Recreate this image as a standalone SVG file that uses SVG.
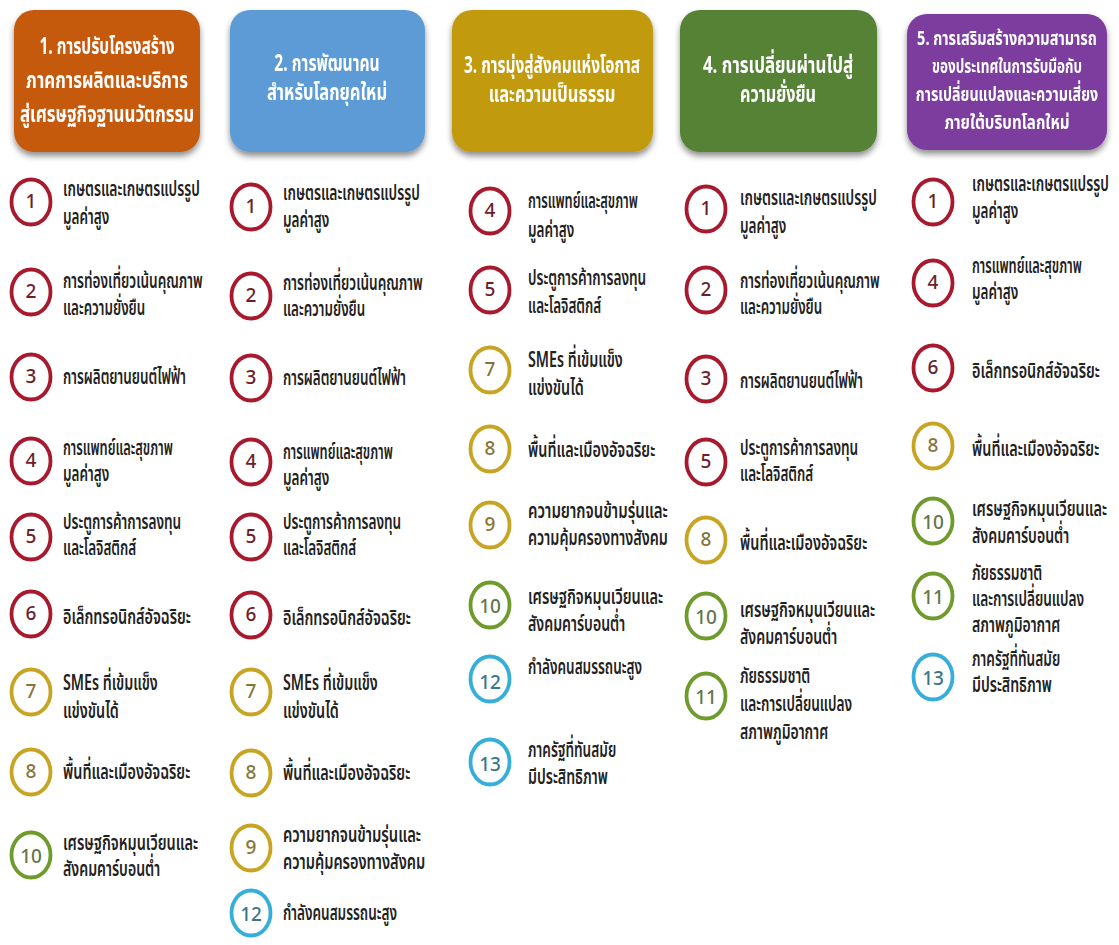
<svg xmlns="http://www.w3.org/2000/svg" width="1119" height="945" viewBox="0 0 1119 945">
<defs>
<filter id="sh" x="-10%" y="-10%" width="120%" height="130%">
<feGaussianBlur in="SourceAlpha" stdDeviation="3"/>
<feOffset dx="0" dy="4" result="b"/>
<feComponentTransfer><feFuncA type="linear" slope="0.45"/></feComponentTransfer>
<feMerge><feMergeNode/><feMergeNode in="SourceGraphic"/></feMerge>
</filter>
</defs>
<style>
text{font-family:"Noto Sans Thai","Noto Sans","DejaVu Sans",sans-serif;dominant-baseline:central}
.h{fill:#fff;font-size:23px;font-weight:700;text-anchor:middle}
.h5{fill:#fff;font-size:20px;font-weight:700;text-anchor:middle}
.t{fill:#222;font-size:22px;font-weight:600}
.n{font-size:19px;font-weight:500;text-anchor:middle}
.r{fill:#fff;stroke:#A8192E;stroke-width:3.8}
.g{fill:#fff;stroke:#C8A423;stroke-width:3.8}
.v{fill:#fff;stroke:#6E9B2C;stroke-width:3.8}
.c{fill:#fff;stroke:#36AEDA;stroke-width:3.8}
.rn{fill:#6E1E2A}.gn{fill:#857538}.vn{fill:#647548}.cn{fill:#377888}
</style>
<rect width="1119" height="945" fill="#fff"/>

<g id="h1" filter="url(#sh)">
<rect x="14" y="10" width="186" height="142" rx="20" fill="#C55A11"/>
<text class="h" transform="translate(107 47) scale(0.65 1)" textLength="208" lengthAdjust="spacingAndGlyphs">1. การปรับโครงสร้าง</text>
<text class="h" transform="translate(107 81) scale(0.65 1)" textLength="249" lengthAdjust="spacingAndGlyphs">ภาคการผลิตและบริการ</text>
<text class="h" transform="translate(107 115) scale(0.65 1)" textLength="268" lengthAdjust="spacingAndGlyphs">สู่เศรษฐกิจฐานนวัตกรรม</text>
</g>
<g id="h2" filter="url(#sh)">
<rect x="230" y="10" width="195" height="142" rx="20" fill="#5B9BD5"/>
<text class="h" transform="translate(327 64) scale(0.65 1)" textLength="162" lengthAdjust="spacingAndGlyphs">2. การพัฒนาคน</text>
<text class="h" transform="translate(327 93) scale(0.65 1)" textLength="185" lengthAdjust="spacingAndGlyphs">สำหรับโลกยุคใหม่</text>
</g>
<g id="h3" filter="url(#sh)">
<rect x="452" y="10" width="201" height="142" rx="20" fill="#C29A0B"/>
<text class="h" transform="translate(552 66) scale(0.65 1)" textLength="271" lengthAdjust="spacingAndGlyphs">3. การมุ่งสู่สังคมแห่งโอกาส</text>
<text class="h" transform="translate(552 95) scale(0.65 1)" textLength="195" lengthAdjust="spacingAndGlyphs">และความเป็นธรรม</text>
</g>
<g id="h4" filter="url(#sh)">
<rect x="680" y="10" width="197" height="142" rx="20" fill="#548235"/>
<text class="h" transform="translate(778 66) scale(0.65 1)" textLength="231" lengthAdjust="spacingAndGlyphs">4. การเปลี่ยนผ่านไปสู่</text>
<text class="h" transform="translate(778 95) scale(0.65 1)" textLength="117" lengthAdjust="spacingAndGlyphs">ความยั่งยืน</text>
</g>
<g id="h5" filter="url(#sh)">
<rect x="907" y="14" width="200" height="136" rx="20" fill="#7B3C9F"/>
<text class="h5" transform="translate(1007 38) scale(0.62 1)" textLength="290" lengthAdjust="spacingAndGlyphs">5. การเสริมสร้างความสามารถ</text>
<text class="h5" transform="translate(1007 66) scale(0.62 1)" textLength="242" lengthAdjust="spacingAndGlyphs">ของประเทศในการรับมือกับ</text>
<text class="h5" transform="translate(1007 94) scale(0.62 1)" textLength="294" lengthAdjust="spacingAndGlyphs">การเปลี่ยนแปลงและความเสี่ยง</text>
<text class="h5" transform="translate(1007 122) scale(0.62 1)" textLength="202" lengthAdjust="spacingAndGlyphs">ภายใต้บริบทโลกใหม่</text>
</g>

<!-- Column 1 -->
<g id="c1-1"><ellipse class="r" cx="31" cy="202" rx="19.5" ry="22.5"/><text class="n rn" x="31" y="202">1</text>
<text class="t" transform="translate(63 189) scale(0.6 1)" textLength="228" lengthAdjust="spacingAndGlyphs">เกษตรและเกษตรแปรรูป</text><text class="t" transform="translate(63 217) scale(0.6 1)" textLength="77" lengthAdjust="spacingAndGlyphs">มูลค่าสูง</text></g>
<g id="c1-2"><ellipse class="r" cx="31" cy="292" rx="19.5" ry="22.5"/><text class="n rn" x="31" y="292">2</text>
<text class="t" transform="translate(63 281) scale(0.6 1)" textLength="233" lengthAdjust="spacingAndGlyphs">การท่องเที่ยวเน้นคุณภาพ</text><text class="t" transform="translate(63 308) scale(0.6 1)" textLength="137" lengthAdjust="spacingAndGlyphs">และความยั่งยืน</text></g>
<g id="c1-3"><ellipse class="r" cx="31" cy="377" rx="19.5" ry="22.5"/><text class="n rn" x="31" y="377">3</text>
<text class="t" transform="translate(63 377) scale(0.6 1)" textLength="205" lengthAdjust="spacingAndGlyphs">การผลิตยานยนต์ไฟฟ้า</text></g>
<g id="c1-4"><ellipse class="r" cx="31" cy="461" rx="19.5" ry="22.5"/><text class="n rn" x="31" y="461">4</text>
<text class="t" transform="translate(63 448) scale(0.6 1)" textLength="183" lengthAdjust="spacingAndGlyphs">การแพทย์และสุขภาพ</text><text class="t" transform="translate(63 474) scale(0.6 1)" textLength="77" lengthAdjust="spacingAndGlyphs">มูลค่าสูง</text></g>
<g id="c1-5"><ellipse class="r" cx="31" cy="537" rx="19.5" ry="22.5"/><text class="n rn" x="31" y="537">5</text>
<text class="t" transform="translate(63 522) scale(0.6 1)" textLength="197" lengthAdjust="spacingAndGlyphs">ประตูการค้าการลงทุน</text><text class="t" transform="translate(63 548) scale(0.6 1)" textLength="122" lengthAdjust="spacingAndGlyphs">และโลจิสติกส์</text></g>
<g id="c1-6"><ellipse class="r" cx="31" cy="614" rx="19.5" ry="22.5"/><text class="n rn" x="31" y="614">6</text>
<text class="t" transform="translate(63 617) scale(0.6 1)" textLength="213" lengthAdjust="spacingAndGlyphs">อิเล็กทรอนิกส์อัจฉริยะ</text></g>
<g id="c1-7"><ellipse class="g" cx="31" cy="692" rx="19.5" ry="22.5"/><text class="n gn" x="31" y="692">7</text>
<text class="t" transform="translate(63 683) scale(0.6 1)" textLength="158" lengthAdjust="spacingAndGlyphs">SMEs ที่เข้มแข็ง</text><text class="t" transform="translate(63 711) scale(0.6 1)" textLength="93" lengthAdjust="spacingAndGlyphs">แข่งขันได้</text></g>
<g id="c1-8"><ellipse class="g" cx="31" cy="772" rx="19.5" ry="22.5"/><text class="n gn" x="31" y="772">8</text>
<text class="t" transform="translate(63 772) scale(0.6 1)" textLength="212" lengthAdjust="spacingAndGlyphs">พื้นที่และเมืองอัจฉริยะ</text></g>
<g id="c1-10"><ellipse class="v" cx="31" cy="855" rx="19.5" ry="22.5"/><text class="n vn" x="31" y="857">10</text>
<text class="t" transform="translate(63 843) scale(0.6 1)" textLength="225" lengthAdjust="spacingAndGlyphs">เศรษฐกิจหมุนเวียนและ</text><text class="t" transform="translate(63 869) scale(0.6 1)" textLength="162" lengthAdjust="spacingAndGlyphs">สังคมคาร์บอนต่ำ</text></g>

<!-- Column 2 -->
<g id="c2-1"><ellipse class="r" cx="251" cy="207" rx="19.5" ry="22.5"/><text class="n rn" x="251" y="207">1</text>
<text class="t" transform="translate(283 193) scale(0.6 1)" textLength="228" lengthAdjust="spacingAndGlyphs">เกษตรและเกษตรแปรรูป</text><text class="t" transform="translate(283 220) scale(0.6 1)" textLength="77" lengthAdjust="spacingAndGlyphs">มูลค่าสูง</text></g>
<g id="c2-2"><ellipse class="r" cx="251" cy="296" rx="19.5" ry="22.5"/><text class="n rn" x="251" y="296">2</text>
<text class="t" transform="translate(283 283) scale(0.6 1)" textLength="233" lengthAdjust="spacingAndGlyphs">การท่องเที่ยวเน้นคุณภาพ</text><text class="t" transform="translate(283 309) scale(0.6 1)" textLength="137" lengthAdjust="spacingAndGlyphs">และความยั่งยืน</text></g>
<g id="c2-3"><ellipse class="r" cx="251" cy="378" rx="19.5" ry="22.5"/><text class="n rn" x="251" y="378">3</text>
<text class="t" transform="translate(283 378) scale(0.6 1)" textLength="205" lengthAdjust="spacingAndGlyphs">การผลิตยานยนต์ไฟฟ้า</text></g>
<g id="c2-4"><ellipse class="r" cx="251" cy="462" rx="19.5" ry="22.5"/><text class="n rn" x="251" y="462">4</text>
<text class="t" transform="translate(283 452) scale(0.6 1)" textLength="183" lengthAdjust="spacingAndGlyphs">การแพทย์และสุขภาพ</text><text class="t" transform="translate(283 478) scale(0.6 1)" textLength="77" lengthAdjust="spacingAndGlyphs">มูลค่าสูง</text></g>
<g id="c2-5"><ellipse class="r" cx="251" cy="537" rx="19.5" ry="22.5"/><text class="n rn" x="251" y="537">5</text>
<text class="t" transform="translate(283 522) scale(0.6 1)" textLength="197" lengthAdjust="spacingAndGlyphs">ประตูการค้าการลงทุน</text><text class="t" transform="translate(283 548) scale(0.6 1)" textLength="122" lengthAdjust="spacingAndGlyphs">และโลจิสติกส์</text></g>
<g id="c2-6"><ellipse class="r" cx="251" cy="615" rx="19.5" ry="22.5"/><text class="n rn" x="251" y="615">6</text>
<text class="t" transform="translate(283 618) scale(0.6 1)" textLength="213" lengthAdjust="spacingAndGlyphs">อิเล็กทรอนิกส์อัจฉริยะ</text></g>
<g id="c2-7"><ellipse class="g" cx="251" cy="692" rx="19.5" ry="22.5"/><text class="n gn" x="251" y="692">7</text>
<text class="t" transform="translate(283 683) scale(0.6 1)" textLength="158" lengthAdjust="spacingAndGlyphs">SMEs ที่เข้มแข็ง</text><text class="t" transform="translate(283 711) scale(0.6 1)" textLength="93" lengthAdjust="spacingAndGlyphs">แข่งขันได้</text></g>
<g id="c2-8"><ellipse class="g" cx="251" cy="773" rx="19.5" ry="22.5"/><text class="n gn" x="251" y="773">8</text>
<text class="t" transform="translate(283 773) scale(0.6 1)" textLength="212" lengthAdjust="spacingAndGlyphs">พื้นที่และเมืองอัจฉริยะ</text></g>
<g id="c2-9"><ellipse class="g" cx="251" cy="848" rx="19.5" ry="22.5"/><text class="n gn" x="251" y="848">9</text>
<text class="t" transform="translate(283 835) scale(0.6 1)" textLength="230" lengthAdjust="spacingAndGlyphs">ความยากจนข้ามรุ่นและ</text><text class="t" transform="translate(283 862) scale(0.6 1)" textLength="237" lengthAdjust="spacingAndGlyphs">ความคุ้มครองทางสังคม</text></g>
<g id="c2-12"><ellipse class="c" cx="251" cy="913" rx="19.5" ry="22.5"/><text class="n cn" x="251" y="915">12</text>
<text class="t" transform="translate(283 913) scale(0.6 1)" textLength="190" lengthAdjust="spacingAndGlyphs">กำลังคนสมรรถนะสูง</text></g>

<!-- Column 3 -->
<g id="c3-4"><ellipse class="r" cx="490" cy="211" rx="19.5" ry="22.5"/><text class="n rn" x="490" y="211">4</text>
<text class="t" transform="translate(528 201) scale(0.6 1)" textLength="183" lengthAdjust="spacingAndGlyphs">การแพทย์และสุขภาพ</text><text class="t" transform="translate(528 230) scale(0.6 1)" textLength="77" lengthAdjust="spacingAndGlyphs">มูลค่าสูง</text></g>
<g id="c3-5"><ellipse class="r" cx="490" cy="290" rx="19.5" ry="22.5"/><text class="n rn" x="490" y="290">5</text>
<text class="t" transform="translate(528 278) scale(0.6 1)" textLength="197" lengthAdjust="spacingAndGlyphs">ประตูการค้าการลงทุน</text><text class="t" transform="translate(528 306) scale(0.6 1)" textLength="122" lengthAdjust="spacingAndGlyphs">และโลจิสติกส์</text></g>
<g id="c3-7"><ellipse class="g" cx="490" cy="370" rx="19.5" ry="22.5"/><text class="n gn" x="490" y="370">7</text>
<text class="t" transform="translate(528 360) scale(0.6 1)" textLength="158" lengthAdjust="spacingAndGlyphs">SMEs ที่เข้มแข็ง</text><text class="t" transform="translate(528 388) scale(0.6 1)" textLength="93" lengthAdjust="spacingAndGlyphs">แข่งขันได้</text></g>
<g id="c3-8"><ellipse class="g" cx="490" cy="449" rx="19.5" ry="22.5"/><text class="n gn" x="490" y="449">8</text>
<text class="t" transform="translate(528 450) scale(0.6 1)" textLength="212" lengthAdjust="spacingAndGlyphs">พื้นที่และเมืองอัจฉริยะ</text></g>
<g id="c3-9"><ellipse class="g" cx="490" cy="525" rx="19.5" ry="22.5"/><text class="n gn" x="490" y="525">9</text>
<text class="t" transform="translate(528 511) scale(0.6 1)" textLength="233" lengthAdjust="spacingAndGlyphs">ความยากจนข้ามรุ่นและ</text><text class="t" transform="translate(528 538) scale(0.6 1)" textLength="233" lengthAdjust="spacingAndGlyphs">ความคุ้มครองทางสังคม</text></g>
<g id="c3-10"><ellipse class="v" cx="490" cy="605" rx="19.5" ry="22.5"/><text class="n vn" x="490" y="607">10</text>
<text class="t" transform="translate(528 597) scale(0.6 1)" textLength="225" lengthAdjust="spacingAndGlyphs">เศรษฐกิจหมุนเวียนและ</text><text class="t" transform="translate(528 624) scale(0.6 1)" textLength="162" lengthAdjust="spacingAndGlyphs">สังคมคาร์บอนต่ำ</text></g>
<g id="c3-12"><ellipse class="c" cx="490" cy="679" rx="19.5" ry="22.5"/><text class="n cn" x="490" y="683">12</text>
<text class="t" transform="translate(528 667) scale(0.6 1)" textLength="190" lengthAdjust="spacingAndGlyphs">กำลังคนสมรรถนะสูง</text></g>
<g id="c3-13"><ellipse class="c" cx="490" cy="762" rx="19.5" ry="22.5"/><text class="n cn" x="490" y="765">13</text>
<text class="t" transform="translate(528 750) scale(0.6 1)" textLength="147" lengthAdjust="spacingAndGlyphs">ภาครัฐที่ทันสมัย</text><text class="t" transform="translate(528 777) scale(0.6 1)" textLength="133" lengthAdjust="spacingAndGlyphs">มีประสิทธิภาพ</text></g>

<!-- Column 4 -->
<g id="c4-1"><ellipse class="r" cx="706" cy="209" rx="19.5" ry="22.5"/><text class="n rn" x="706" y="209">1</text>
<text class="t" transform="translate(740 198) scale(0.6 1)" textLength="228" lengthAdjust="spacingAndGlyphs">เกษตรและเกษตรแปรรูป</text><text class="t" transform="translate(740 226) scale(0.6 1)" textLength="77" lengthAdjust="spacingAndGlyphs">มูลค่าสูง</text></g>
<g id="c4-2"><ellipse class="r" cx="706" cy="290" rx="19.5" ry="22.5"/><text class="n rn" x="706" y="290">2</text>
<text class="t" transform="translate(740 281) scale(0.6 1)" textLength="233" lengthAdjust="spacingAndGlyphs">การท่องเที่ยวเน้นคุณภาพ</text><text class="t" transform="translate(740 307) scale(0.6 1)" textLength="137" lengthAdjust="spacingAndGlyphs">และความยั่งยืน</text></g>
<g id="c4-3"><ellipse class="r" cx="706" cy="379" rx="19.5" ry="22.5"/><text class="n rn" x="706" y="379">3</text>
<text class="t" transform="translate(740 381) scale(0.6 1)" textLength="205" lengthAdjust="spacingAndGlyphs">การผลิตยานยนต์ไฟฟ้า</text></g>
<g id="c4-5"><ellipse class="r" cx="706" cy="462" rx="19.5" ry="22.5"/><text class="n rn" x="706" y="462">5</text>
<text class="t" transform="translate(740 448) scale(0.6 1)" textLength="197" lengthAdjust="spacingAndGlyphs">ประตูการค้าการลงทุน</text><text class="t" transform="translate(740 474) scale(0.6 1)" textLength="122" lengthAdjust="spacingAndGlyphs">และโลจิสติกส์</text></g>
<g id="c4-8"><ellipse class="g" cx="706" cy="540" rx="19.5" ry="22.5"/><text class="n gn" x="706" y="540">8</text>
<text class="t" transform="translate(740 543) scale(0.6 1)" textLength="212" lengthAdjust="spacingAndGlyphs">พื้นที่และเมืองอัจฉริยะ</text></g>
<g id="c4-10"><ellipse class="v" cx="706" cy="616" rx="19.5" ry="22.5"/><text class="n vn" x="706" y="618">10</text>
<text class="t" transform="translate(740 610) scale(0.6 1)" textLength="225" lengthAdjust="spacingAndGlyphs">เศรษฐกิจหมุนเวียนและ</text><text class="t" transform="translate(740 637) scale(0.6 1)" textLength="162" lengthAdjust="spacingAndGlyphs">สังคมคาร์บอนต่ำ</text></g>
<g id="c4-11"><ellipse class="v" cx="706" cy="696" rx="19.5" ry="22.5"/><text class="n vn" x="706" y="698">11</text>
<text class="t" transform="translate(740 676) scale(0.6 1)" textLength="117" lengthAdjust="spacingAndGlyphs">ภัยธรรมชาติ</text><text class="t" transform="translate(740 704) scale(0.6 1)" textLength="187" lengthAdjust="spacingAndGlyphs">และการเปลี่ยนแปลง</text><text class="t" transform="translate(740 732) scale(0.6 1)" textLength="147" lengthAdjust="spacingAndGlyphs">สภาพภูมิอากาศ</text></g>

<!-- Column 5 -->
<g id="c5-1"><ellipse class="r" cx="933" cy="202" rx="19.5" ry="22.5"/><text class="n rn" x="933" y="202">1</text>
<text class="t" transform="translate(972 184) scale(0.6 1)" textLength="228" lengthAdjust="spacingAndGlyphs">เกษตรและเกษตรแปรรูป</text><text class="t" transform="translate(972 211) scale(0.6 1)" textLength="77" lengthAdjust="spacingAndGlyphs">มูลค่าสูง</text></g>
<g id="c5-4"><ellipse class="r" cx="933" cy="283" rx="19.5" ry="22.5"/><text class="n rn" x="933" y="283">4</text>
<text class="t" transform="translate(972 266) scale(0.6 1)" textLength="183" lengthAdjust="spacingAndGlyphs">การแพทย์และสุขภาพ</text><text class="t" transform="translate(972 292) scale(0.6 1)" textLength="77" lengthAdjust="spacingAndGlyphs">มูลค่าสูง</text></g>
<g id="c5-6"><ellipse class="r" cx="933" cy="368" rx="19.5" ry="22.5"/><text class="n rn" x="933" y="368">6</text>
<text class="t" transform="translate(972 371) scale(0.6 1)" textLength="213" lengthAdjust="spacingAndGlyphs">อิเล็กทรอนิกส์อัจฉริยะ</text></g>
<g id="c5-8"><ellipse class="g" cx="933" cy="446" rx="19.5" ry="22.5"/><text class="n gn" x="933" y="446">8</text>
<text class="t" transform="translate(972 449) scale(0.6 1)" textLength="212" lengthAdjust="spacingAndGlyphs">พื้นที่และเมืองอัจฉริยะ</text></g>
<g id="c5-10"><ellipse class="v" cx="933" cy="521" rx="19.5" ry="22.5"/><text class="n vn" x="933" y="523">10</text>
<text class="t" transform="translate(972 509) scale(0.6 1)" textLength="225" lengthAdjust="spacingAndGlyphs">เศรษฐกิจหมุนเวียนและ</text><text class="t" transform="translate(972 536) scale(0.6 1)" textLength="162" lengthAdjust="spacingAndGlyphs">สังคมคาร์บอนต่ำ</text></g>
<g id="c5-11"><ellipse class="v" cx="933" cy="596" rx="19.5" ry="22.5"/><text class="n vn" x="933" y="598">11</text>
<text class="t" transform="translate(972 573) scale(0.6 1)" textLength="117" lengthAdjust="spacingAndGlyphs">ภัยธรรมชาติ</text><text class="t" transform="translate(972 599) scale(0.6 1)" textLength="187" lengthAdjust="spacingAndGlyphs">และการเปลี่ยนแปลง</text><text class="t" transform="translate(972 625) scale(0.6 1)" textLength="147" lengthAdjust="spacingAndGlyphs">สภาพภูมิอากาศ</text></g>
<g id="c5-13"><ellipse class="c" cx="933" cy="677" rx="19.5" ry="22.5"/><text class="n cn" x="933" y="679">13</text>
<text class="t" transform="translate(972 659) scale(0.6 1)" textLength="147" lengthAdjust="spacingAndGlyphs">ภาครัฐที่ทันสมัย</text><text class="t" transform="translate(972 685) scale(0.6 1)" textLength="133" lengthAdjust="spacingAndGlyphs">มีประสิทธิภาพ</text></g>
</svg>
